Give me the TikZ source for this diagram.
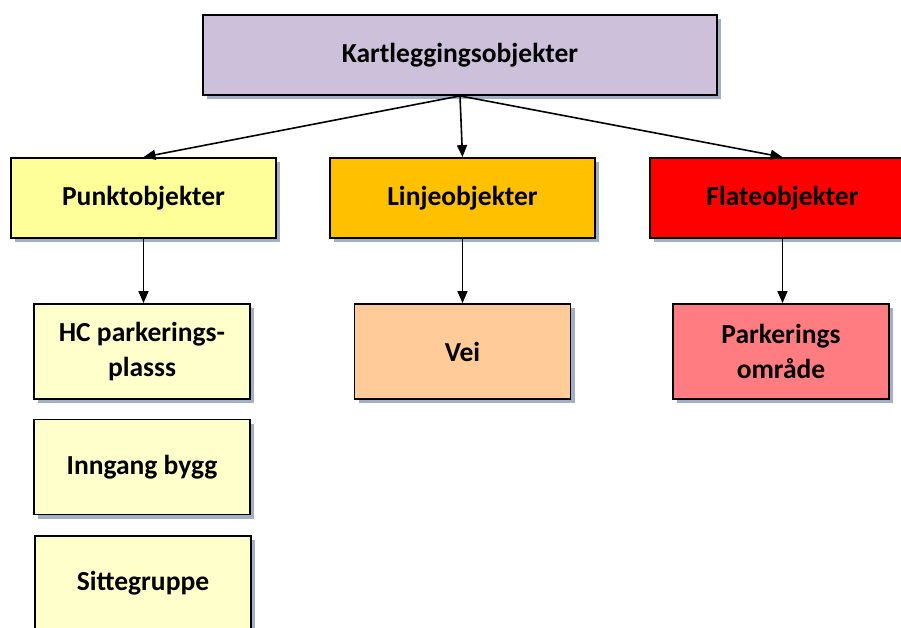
\documentclass[tikz,border=0pt]{standalone}
\usepackage{fontspec}
\setmainfont{Carlito}
\usetikzlibrary{shadows,arrows.meta}
\definecolor{customcolor1}{HTML}{CCC0DA}
\definecolor{customcolor2}{HTML}{FFFF99}
\definecolor{customcolor3}{HTML}{FFC000}
\definecolor{customcolor4}{HTML}{FF0000}
\definecolor{customcolor5}{HTML}{FFFFCC}
\definecolor{customcolor6}{HTML}{FFCC99}
\definecolor{customcolor7}{HTML}{FF7C80}
\definecolor{shadowcolor}{HTML}{A3B0C4}

\begin{document}
\begin{tikzpicture}[x = 1pt, y = -1pt,
    box/.style = {draw, rectangle, line width = 1.8pt, align = center,
        font = \fontsize{27.5}{35}\selectfont\bfseries,
        drop shadow = {shadow xshift = 4pt, shadow yshift = -4pt, fill = shadowcolor, opacity = 1}},
    topbox/.style = {box, minimum width = 514pt, minimum height = 80pt},
    groupbox/.style = {box, minimum width = 265pt, minimum height = 80pt},
    leafbox/.style = {box, minimum width = 216pt, minimum height = 95pt},
    link/.style = {-{Triangle[length = 12pt, width = 10pt]}, line width = 1.6pt}]
        \useasboundingbox (0, 0) rectangle (901, 628);

        % Nodes
        \node [topbox, fill = customcolor1] (kart) at (460, 55) {Kartleggingsobjekter};
        \node [groupbox, fill = customcolor2] (punkt) at (143.5, 198) {Punktobjekter};
        \node [groupbox, fill = customcolor3] (linje) at (462.5, 198) {Linjeobjekter};
        \node [groupbox, fill = customcolor4] (flate) at (782.5, 198) {Flateobjekter};
        \node [leafbox, fill = customcolor5] (hc) at (142, 351.5) {HC parkerings-\\plasss};
        \node [leafbox, fill = customcolor5] (inngang) at (142, 467) {Inngang bygg};
        \node [leafbox, fill = customcolor5] (sitte) at (143, 583.5) {Sittegruppe};
        \node [leafbox, fill = customcolor6] (vei) at (462.5, 351.5) {Vei};
        \node [leafbox, fill = customcolor7] (parkering) at (781, 351.5) {Parkerings\\område};

        % Draw the links
        \draw [link] (kart.south) -- (punkt.north);
        \draw [link] (kart.south) -- (linje.north);
        \draw [link] (kart.south) -- (flate.north);
        \draw [link] (punkt.south) -- (punkt.south |- hc.north);
        \draw [link] (linje.south) -- (linje.south |- vei.north);
        \draw [link] (flate.south) -- (flate.south |- parkering.north);

    \end{tikzpicture}
\end{document}
